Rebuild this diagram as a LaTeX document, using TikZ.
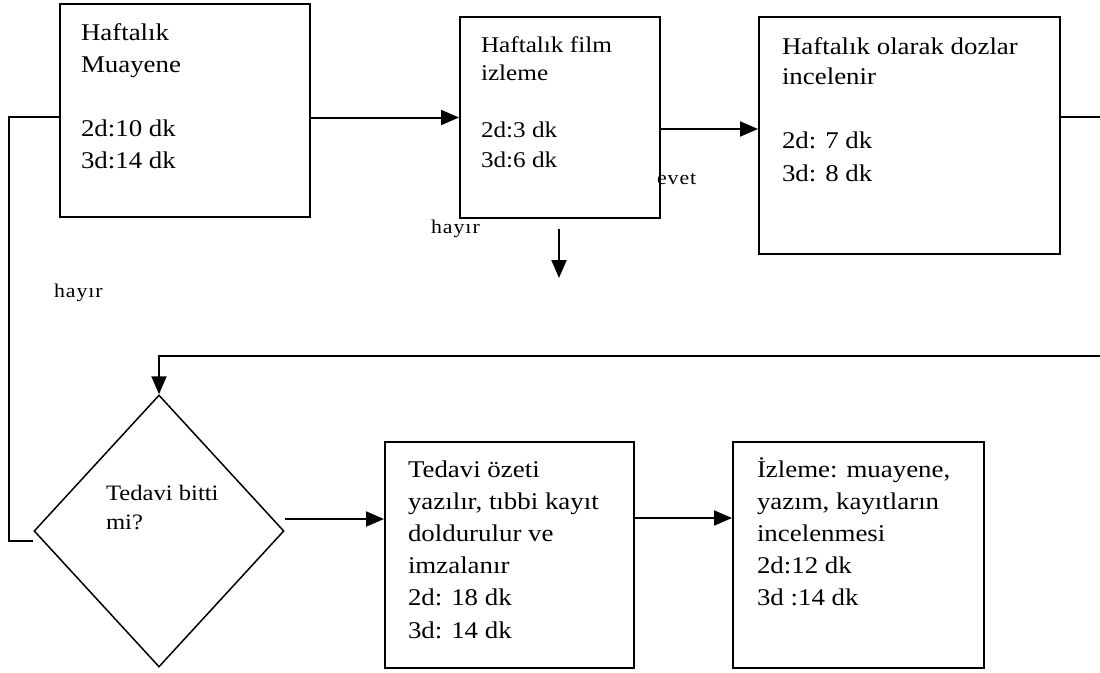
\documentclass[tikz,border=0pt]{standalone}
\usepackage{fontspec}
\setmainfont[FakeStretch=1.12]{Liberation Serif}
\newfontfamily\lblfont[FakeStretch=1.12,LetterSpace=5]{Liberation Serif}
\usetikzlibrary{arrows.meta,shapes.geometric}

\begin{document}
\begin{tikzpicture}[x=1pt,y=-1pt,
  line width=2pt,
  box/.style={draw,rectangle,inner sep=0pt,line width=2pt},
  decision/.style={draw,diamond,inner sep=0pt,line width=1.5pt,
    minimum width=250pt,minimum height=272pt},
  txt/.style={anchor=base west,inner sep=0pt},
  lbl/.style={anchor=base west,inner sep=0pt,font=\lblfont\fontsize{19.5}{19.5}\selectfont},
  arr/.style={-{Triangle[length=18pt,width=15pt]}}]

\useasboundingbox (0,0) rectangle (1100,672);

% process boxes
\node[box,minimum width=250pt,minimum height=213pt] (b1) at (185,110.5) {};
\node[box,minimum width=200pt,minimum height=201pt] (b2) at (560,117.5) {};
\node[box,minimum width=301pt,minimum height=237pt] (b3) at (909.5,135.5) {};
\node[decision] (dia) at (159,531) {};
\node[box,minimum width=249pt,minimum height=226pt] (b4) at (509.5,555) {};
\node[box,minimum width=251pt,minimum height=226pt] (b5) at (858.5,555) {};

% box texts
\node[txt] (t1) at (80,40) {\parbox[t]{225pt}{\raggedright\fontsize{24}{32}\selectfont
  Haftalık\\Muayene\\[32pt]2d:10 dk\\3d:14 dk}};
\node[txt] (t2) at (480,52) {\parbox[t]{180pt}{\raggedright\fontsize{22.5}{28}\selectfont
  Haftalık film\\izleme\\[29pt]2d:3 dk\\[2pt]3d:6 dk}};
\node[txt] (t3) at (781,54) {\parbox[t]{270pt}{\raggedright\fontsize{24}{30}\selectfont
  Haftalık olarak dozlar\\incelenir\\[34pt]2d: 7 dk\\[3pt]3d: 8 dk}};
\node[txt] (t4) at (105,500) {\parbox[t]{150pt}{\raggedright\fontsize{22}{29}\selectfont
  Tedavi bitti\\mi?}};
\node[txt] (t5) at (407,477) {\parbox[t]{225pt}{\raggedright\fontsize{24}{32.2}\selectfont
  Tedavi özeti\\yazılır, tıbbi kayıt\\doldurulur ve\\imzalanır\\2d: 18 dk\\3d: 14 dk}};
\node[txt] (t6) at (756,477) {\parbox[t]{225pt}{\raggedright\fontsize{24}{32.2}\selectfont
  İzleme: muayene,\\yazım, kayıtların\\incelenmesi\\2d:12 dk\\3d :14 dk}};

% free ends of connectors
\coordinate (eR1) at (1100,117);
\coordinate (eR2) at (1100,356);
\coordinate (dTop) at (559,229);
\coordinate (dBot) at (559,278);

% connectors
\draw[arr] (b1.east |- b2.west) -- (b2.west);
\draw[arr] ([yshift=-11.5pt]b2.east) -- ([yshift=-11.5pt]b2.east -| b3.west);
\draw (b3.east |- eR1) -- (eR1);
\draw[arr] (eR2) -| (dia.north);
\draw[arr] (dTop) -- (dBot);
\draw ([yshift=-10pt]dia.west) -- ++(-24,0) |- ([yshift=-6.5pt]b1.west);
\draw[arr] ([yshift=12pt]dia.east) -- ([yshift=12pt]dia.east -| b4.west);
\draw[arr] ([yshift=37pt]b4.east) -- ([yshift=37pt]b4.east -| b5.west);

% branch labels
\node[lbl] (lEvet) at (656,184) {evet};
\node[lbl] (lHayir1) at (430,233) {hayır};
\node[lbl] (lHayir2) at (53,297) {hayır};
\end{tikzpicture}
\end{document}
